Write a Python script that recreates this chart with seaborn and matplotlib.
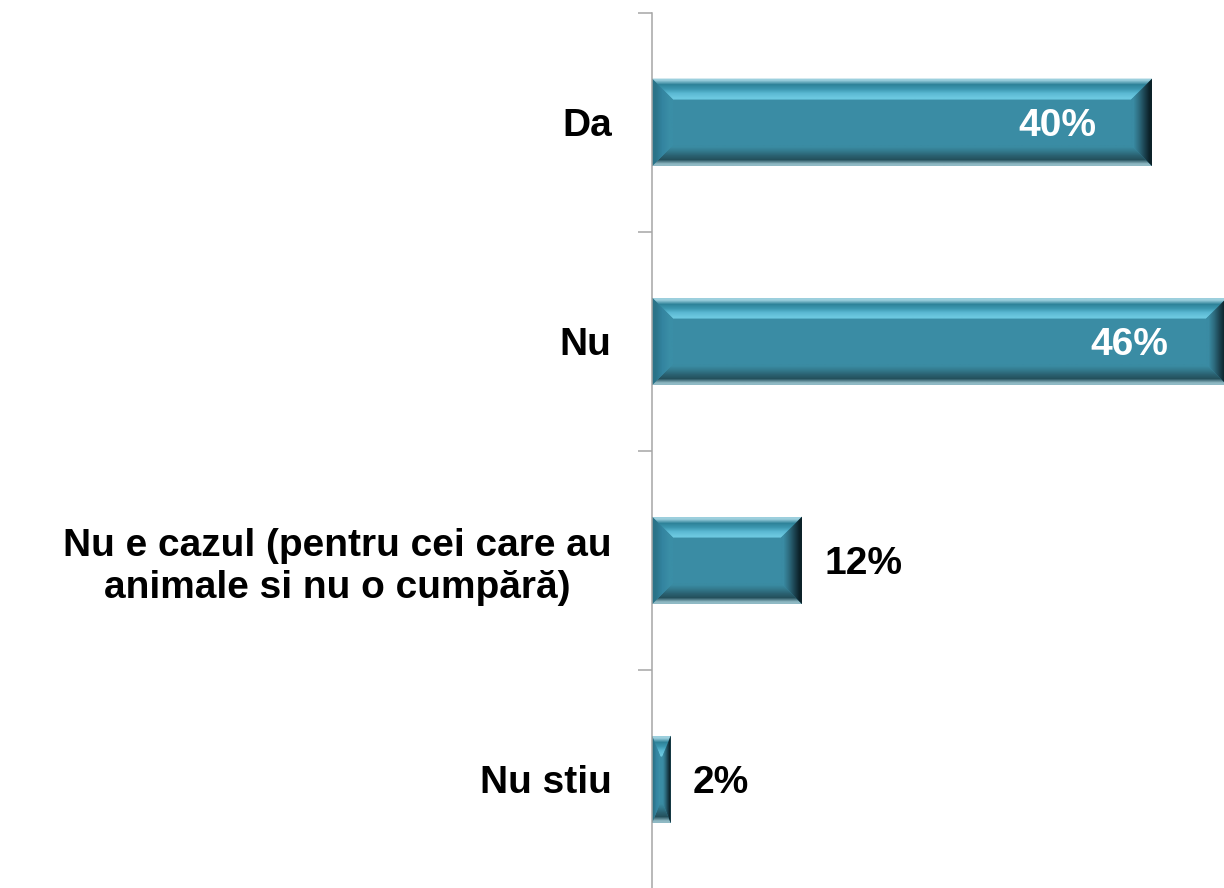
import matplotlib
matplotlib.use("Agg")
import matplotlib.pyplot as plt
from matplotlib.patches import Polygon
from matplotlib.colors import to_rgb
import numpy as np
import seaborn as sns
import pandas as pd

# data
categories = ["Da", "Nu", "Nu e cazul (pentru cei care au\nanimale si nu o cumpără)", "Nu stiu"]
values = [40, 46, 12, 1.5]
value_labels = ["40%", "46%", "12%", "2%"]

face = "#3A8CA4"
axis_col = "#A6A6A6"
# bevel gradients, listed from the outer edge towards the bar face
top_grad = ["#9CCFDD", "#2E8299", "#3C97B0", "#5BB9D3", "#6CC8E0"]
bottom_grad = ["#8FB9C4", "#24505C", "#2B6272", "#33798C", "#3A8BA2"]
left_grad = ["#2A7388", "#3384A0", "#3A8EA6"]
right_grad = ["#0C2229", "#1D4654", "#2E6D80", "#3A8BA3"]

sns.set_theme(style="white")
plt.rcParams["font.family"] = ["Liberation Sans", "DejaVu Sans"]

df = pd.DataFrame({"cat": categories, "val": values})

fig = plt.figure(figsize=(12.24, 8.88), dpi=100)
ax = fig.add_axes([0.5327, -0.001, 0.4673, 0.9865])

sns.barplot(data=df, x="val", y="cat", orient="h", color=face, width=0.4,
            saturation=1, ax=ax, linewidth=0)

xmax = 45.75
ax.set_xlim(0, xmax)
ax.set_ylim(3.5, -0.5)

# spines / ticks
for s in ["top", "right", "bottom"]:
    ax.spines[s].set_visible(False)
ax.spines["left"].set_color(axis_col)
ax.spines["left"].set_linewidth(1.1)
ax.set_xticks([])
ax.set_xlabel("")
ax.set_ylabel("")
ax.set_yticks(range(len(categories)))
ax.set_yticklabels(categories, fontsize=28, fontweight="bold", color="black")
for lab in ax.get_yticklabels():
    lab.set_multialignment("center")
    lab.set_linespacing(1.2)
ax.set_yticks([i - 0.5 for i in range(len(categories) + 1)], minor=True)
ax.tick_params(axis="y", which="major", length=0, pad=29)
ax.tick_params(axis="y", which="minor", length=10, width=1.1, color=axis_col, left=True)


def grad_band(pts, bbox, cols, vertical, flip, z):
    # gradient image clipped to one bevel facet (all in display coords)
    arr = np.array([to_rgb(c) for c in cols])
    if flip:
        arr = arr[::-1]
    img = arr[:, None, :] if vertical else arr[None, :, :]
    (xl, yb), (xr, yt) = ax.transData.inverted().transform(
        [(bbox[0], bbox[1]), (bbox[2], bbox[3])])
    poly = Polygon(ax.transData.inverted().transform(pts), closed=True,
                   transform=ax.transData, facecolor="none", edgecolor="none")
    ax.add_patch(poly)
    im = ax.imshow(img, extent=(xl, xr, yb, yt), origin="upper", aspect="auto",
                   interpolation="bilinear", zorder=z)
    im.set_clip_path(poly)


to_disp = ax.transData
for p in list(ax.patches):
    x0, y0, w, h = p.get_x(), p.get_y(), p.get_width(), p.get_height()
    (L, B), (R, T) = to_disp.transform([(x0, y0), (x0 + w, y0 + h)])
    B, T = min(B, T), max(B, T)
    dx = min(21, (R - L) / 2 * 0.9)
    dy = 21
    z = p.get_zorder() + 0.1
    # top facet: edge at top (row 0 = display top)
    grad_band([(L, T), (R, T), (R - dx, T - dy), (L + dx, T - dy)],
              (L, T - dy, R, T), top_grad, True, False, z)
    # bottom facet: edge at bottom
    grad_band([(L, B), (R, B), (R - dx, B + dy), (L + dx, B + dy)],
              (L, B, R, B + dy), bottom_grad, True, True, z)
    # left facet: edge at left
    grad_band([(L, B), (L, T), (L + dx, T - dy), (L + dx, B + dy)],
              (L, B, L + dx, T), left_grad, False, False, z)
    # right facet: edge at right
    grad_band([(R, B), (R, T), (R - dx, T - dy), (R - dx, B + dy)],
              (R - dx, B, R, T), right_grad, False, True, z)

ax.set_xlim(0, xmax)
ax.set_ylim(3.5, -0.5)

# value labels
for i, (v, lab) in enumerate(zip(values, value_labels)):
    if v >= 20:
        ax.annotate(lab, xy=(min(v, xmax), i), xytext=(-40, 0), textcoords="offset points",
                    ha="right", va="center_baseline", fontsize=28, fontweight="bold",
                    color="white", zorder=5)
    else:
        ax.annotate(lab, xy=(v, i), xytext=(16, 0), textcoords="offset points",
                    ha="left", va="center_baseline", fontsize=28, fontweight="bold",
                    color="black", zorder=5)

fig.savefig("out.png", dpi=100)
